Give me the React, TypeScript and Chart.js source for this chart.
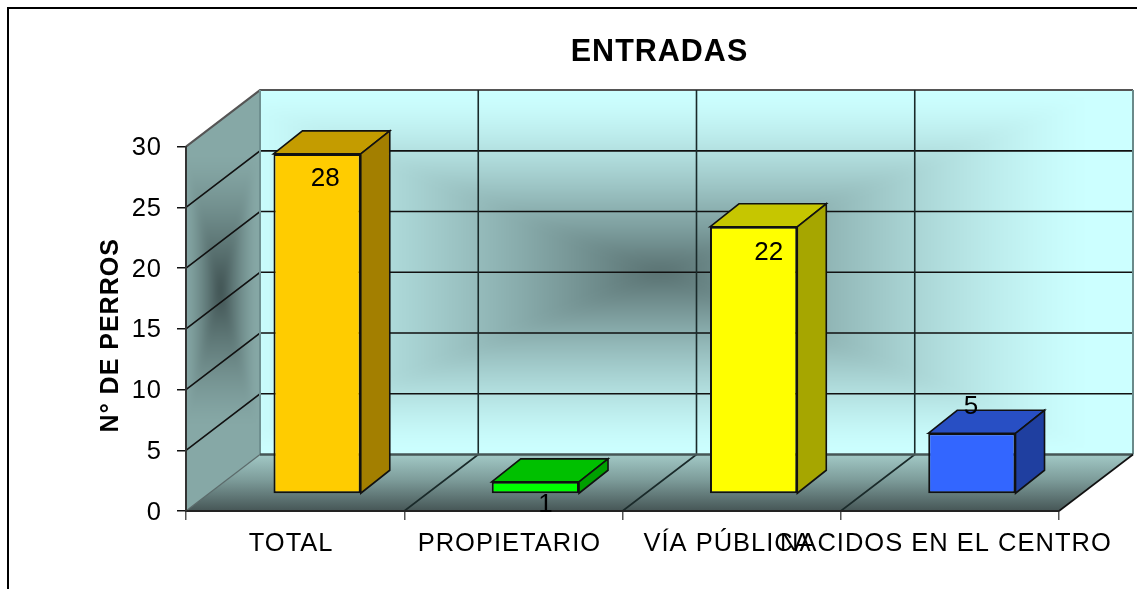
import React, { useEffect, useRef } from "react";
import { Chart, registerables } from "chart.js";

Chart.register(...registerables);

const categories = ["TOTAL", "PROPIETARIO", "VÍA PÚBLICA", "NACIDOS EN EL CENTRO"];
const values = [28, 1, 22, 5];
const frontColors = ["#FFCC00", "#00FF00", "#FFFF00", "#3366FF"];
const topColors = ["#C49C00", "#00C000", "#C6C600", "#284FC4"];
const sideColors = ["#A37F00", "#00A000", "#A6A600", "#1F3FA0"];
const yTicks = [0, 5, 10, 15, 20, 25, 30];
const chartTitle = "ENTRADAS";
const yTitle = "N° DE PERROS";

const FONT = "'Liberation Sans', Arial, sans-serif";
const WALL_DX = 74;
const WALL_DY = -56.5;
const BAR_SHIFT_X = 22;
const BAR_SHIFT_Y = -17;
const BAR_DX = 29;
const BAR_DY = -23;
const LABEL_SHIFTS: [number, number][] = [
  [8, 25],
  [10, 23],
  [15, 26],
  [-1, -26],
];

type RGB = [number, number, number];
type Pt = [number, number];

function polyPath(ctx: CanvasRenderingContext2D, pts: Pt[]) {
  ctx.beginPath();
  pts.forEach((p, i) => (i ? ctx.lineTo(p[0], p[1]) : ctx.moveTo(p[0], p[1])));
  ctx.closePath();
}

function line(ctx: CanvasRenderingContext2D, pts: Pt[], color: string, width: number) {
  ctx.beginPath();
  pts.forEach((p, i) => (i ? ctx.lineTo(p[0], p[1]) : ctx.moveTo(p[0], p[1])));
  ctx.strokeStyle = color;
  ctx.lineWidth = width;
  ctx.stroke();
}

// Rectangular "from centre" gradient, softened, as the spreadsheet program paints its walls.
function pathGradient(
  ctx: CanvasRenderingContext2D,
  pts: Pt[],
  cx: number,
  cy: number,
  hw: number,
  hh: number,
  inner: RGB,
  outer: RGB,
  blur: number
) {
  const pad = blur * 4;
  const xs = pts.map((p) => p[0]);
  const ys = pts.map((p) => p[1]);
  const x0 = Math.floor(Math.min(...xs)) - pad;
  const y0 = Math.floor(Math.min(...ys)) - pad;
  const w = Math.ceil(Math.max(...xs)) + pad - x0;
  const h = Math.ceil(Math.max(...ys)) + pad - y0;
  const off = document.createElement("canvas");
  off.width = w;
  off.height = h;
  const oc = off.getContext("2d")!;
  const img = oc.createImageData(w, h);
  for (let j = 0; j < h; j++) {
    for (let i = 0; i < w; i++) {
      const t = Math.min(1, Math.max(Math.abs(i + x0 - cx) / hw, Math.abs(j + y0 - cy) / hh));
      const f = 1 - Math.pow(1 - t, 1.35);
      const k = (j * w + i) * 4;
      for (let c = 0; c < 3; c++) img.data[k + c] = inner[c] + (outer[c] - inner[c]) * f;
      img.data[k + 3] = 255;
    }
  }
  oc.putImageData(img, 0, 0);
  ctx.save();
  polyPath(ctx, pts);
  ctx.clip();
  ctx.filter = `blur(${blur}px)`;
  ctx.drawImage(off, x0, y0);
  ctx.restore();
}

const scenePlugin = {
  id: "scene3d",
  afterLayout(chart: any) {
    if (chart.titleBlock) {
      chart.titleBlock.left = chart.chartArea.left;
      chart.titleBlock.right = chart.chartArea.right + WALL_DX;
    }
    const y = chart.scales.y;
    if (!y.__titleShifted) {
      y.__titleShifted = true;
      const drawTitle = y.drawTitle.bind(y);
      y.drawTitle = () => {
        chart.ctx.save();
        chart.ctx.translate(0, 6.5);
        drawTitle();
        chart.ctx.restore();
      };
    }
  },
  beforeDraw(chart: any) {
    const ctx: CanvasRenderingContext2D = chart.ctx;
    const { left, right, top, bottom } = chart.chartArea;
    const xs = chart.scales.x;
    const ys = chart.scales.y;
    (ctx as any).letterSpacing = "1px";

    // white page and frame
    ctx.fillStyle = "#fff";
    ctx.fillRect(0, 0, chart.width, chart.height);
    line(ctx, [[8, chart.height], [8, 8], [chart.width, 8]], "#000", 2);

    const bl = left + WALL_DX;
    const br = right + WALL_DX;
    const bt = top + WALL_DY;
    const bb = bottom + WALL_DY;

    // back wall
    pathGradient(ctx, [[bl, bt], [br, bt], [br, bb], [bl, bb]], 660, bt + 182, 430, 178, [88, 112, 112], [204, 255, 255], 7);
    // side wall
    pathGradient(ctx, [[left, top], [bl, bt], [bl, bb], [left, bottom]], 220, 290, 36, 135, [62, 80, 80], [134, 168, 166], 3);
    // floor
    const g = ctx.createLinearGradient(0, bb, 0, bottom);
    g.addColorStop(0, "#A2C9C6");
    g.addColorStop(0.45, "#7D9C9A");
    g.addColorStop(1, "#465656");
    polyPath(ctx, [[left, bottom], [bl, bb], [br, bb], [right, bottom]]);
    ctx.fillStyle = g;
    ctx.fill();

    // wall gridlines
    ys.ticks.forEach((t: any) => {
      const y = ys.getPixelForValue(t.value);
      if (t.value > 0) {
        line(ctx, [[left, y], [bl, y + WALL_DY], [br, y + WALL_DY]], t.value === 30 ? "#555" : "#111", t.value === 30 ? 2 : 1.6);
      }
    });
    const step = xs.getPixelForValue(1) - xs.getPixelForValue(0);
    categories.forEach((_, i) => {
      if (i === 0) return;
      const x = xs.getPixelForValue(i) - step / 2;
      line(ctx, [[x, bottom], [x + WALL_DX, bb], [x + WALL_DX, bt]], "#1a2a2a", 1.6);
    });
    line(ctx, [[bl, bt], [bl, bb]], "#6f8f8f", 2);
    line(ctx, [[br, bt], [br, bb]], "#6a8a8a", 2);
    line(ctx, [[left, bottom], [bl, bb]], "#5a6a6a", 1.2);
    line(ctx, [[bl, bb], [br, bb]], "#465656", 2.5);
    line(ctx, [[right, bottom], [br, bb]], "#111", 1.6);
  },
  beforeDatasetsDraw(chart: any) {
    const ctx: CanvasRenderingContext2D = chart.ctx;
    ctx.save();
    ctx.translate(BAR_SHIFT_X, BAR_SHIFT_Y);
    chart.getDatasetMeta(0).data.forEach((el: any, i: number) => {
      const { x, y, base, width } = el.getProps(["x", "y", "base", "width"], true);
      const l = x - width / 2;
      const r = x + width / 2;
      polyPath(ctx, [[l, y], [l + BAR_DX, y + BAR_DY], [r + BAR_DX, y + BAR_DY], [r, y]]);
      ctx.fillStyle = topColors[i];
      ctx.fill();
      ctx.strokeStyle = "#111";
      ctx.lineWidth = 1.6;
      ctx.stroke();
      polyPath(ctx, [[r, y], [r + BAR_DX, y + BAR_DY], [r + BAR_DX, base + BAR_DY], [r, base]]);
      ctx.fillStyle = sideColors[i];
      ctx.fill();
      ctx.stroke();
    });
  },
  afterDatasetsDraw(chart: any) {
    const ctx: CanvasRenderingContext2D = chart.ctx;
    ctx.restore();
    ctx.save();
    (ctx as any).letterSpacing = "0px";
    ctx.font = `26px ${FONT}`;
    ctx.fillStyle = "#000";
    ctx.textAlign = "center";
    ctx.textBaseline = "middle";
    chart.getDatasetMeta(0).data.forEach((el: any, i: number) => {
      const { x, y } = el.getProps(["x", "y"], true);
      ctx.fillText(
        String(values[i]),
        x + BAR_SHIFT_X + LABEL_SHIFTS[i][0],
        y + BAR_SHIFT_Y + LABEL_SHIFTS[i][1]
      );
    });
    ctx.restore();
  },
};

export default function App() {
  const ref = useRef<HTMLCanvasElement>(null);
  useEffect(() => {
    const chart = new Chart(ref.current!, {
      type: "bar",
      plugins: [scenePlugin as any],
      data: {
        labels: categories,
        datasets: [
          {
            data: values,
            backgroundColor: frontColors,
            borderColor: "#111",
            borderWidth: 2,
            borderSkipped: false,
            barPercentage: 0.4,
            categoryPercentage: 1,
            clip: false as any,
          },
        ],
      },
      options: {
        responsive: false,
        animation: false,
        layout: { padding: { left: 0, top: 0, right: 78, bottom: 0 } },
        plugins: {
          legend: { display: false },
          tooltip: { enabled: false },
          title: {
            display: true,
            text: chartTitle,
            color: "#000",
            font: { family: FONT, size: 30.5, weight: "bold", lineHeight: 1.2 },
            padding: { top: 34, bottom: 76 },
          },
        },
        scales: {
          x: {
            grid: { drawOnChartArea: false, drawTicks: true, tickLength: 9, color: "#555", lineWidth: 1.5, offset: true },
            border: { display: true, color: "#222", width: 2 },
            ticks: {
              color: "#000",
              autoSkip: false,
              maxRotation: 0,
              minRotation: 0,
              padding: 9,
              labelOffset: -4,
              font: { family: FONT, size: 25.5 },
            },
            afterFit: (s: any) => {
              s.height = 78;
              s.paddingLeft = 0;
              s.paddingRight = 0;
            },
          },
          y: {
            min: 0,
            max: 30,
            grid: { drawOnChartArea: false, drawTicks: true, tickLength: 9, color: "#111", lineWidth: 1.5 },
            border: { display: true, color: "#333", width: 2 },
            afterBuildTicks: (s: any) => {
              s.ticks = yTicks.map((value) => ({ value }));
            },
            ticks: {
              color: "#000",
              padding: 15,
              labelOffset: 1.5,
              font: { family: FONT, size: 25.5 },
            },
            title: {
              display: true,
              text: yTitle,
              color: "#000",
              font: { family: FONT, size: 25, weight: "bold", lineHeight: 1.2 },
              padding: { top: 96, bottom: 0 },
            },
            afterFit: (s: any) => {
              s.width = 186;
              s.paddingTop = 0;
              s.paddingBottom = 0;
            },
          },
        },
      },
    });
    return () => chart.destroy();
  }, []);
  return (
    <div style={{ position: "absolute", left: 0, top: 0, width: 1137, height: 589, background: "#fff" }}>
      <canvas ref={ref} width={1137} height={589} style={{ display: "block" }} />
    </div>
  );
}
